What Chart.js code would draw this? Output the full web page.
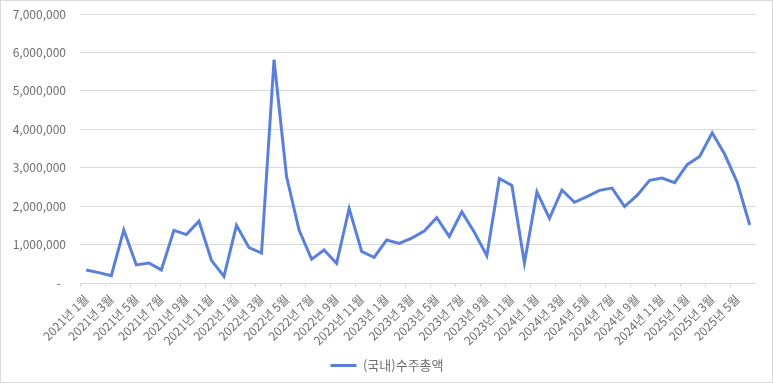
<!DOCTYPE html>
<html>
<head>
<meta charset="utf-8">
<script src="https://cdn.jsdelivr.net/npm/chart.js@4"></script>
<style>
  html, body { margin: 0; padding: 0; background: #fff; }
  #wrap { position: relative; width: 773px; height: 383px; }
  canvas { display: block; }
</style>
</head>
<body>
<div id="wrap"><canvas id="c" width="773" height="383"></canvas></div>
<script>
const categories = [
  "2021년 1월","2021년 2월","2021년 3월","2021년 4월","2021년 5월","2021년 6월",
  "2021년 7월","2021년 8월","2021년 9월","2021년 10월","2021년 11월","2021년 12월",
  "2022년 1월","2022년 2월","2022년 3월","2022년 4월","2022년 5월","2022년 6월",
  "2022년 7월","2022년 8월","2022년 9월","2022년 10월","2022년 11월","2022년 12월",
  "2023년 1월","2023년 2월","2023년 3월","2023년 4월","2023년 5월","2023년 6월",
  "2023년 7월","2023년 8월","2023년 9월","2023년 10월","2023년 11월","2023년 12월",
  "2024년 1월","2024년 2월","2024년 3월","2024년 4월","2024년 5월","2024년 6월",
  "2024년 7월","2024년 8월","2024년 9월","2024년 10월","2024년 11월","2024년 12월",
  "2025년 1월","2025년 2월","2025년 3월","2025년 4월","2025년 5월","2025년 6월"
];
const seriesName = "(국내)수주총액";
const orderTotal = [
  340000, 270000, 190000, 1380000, 470000, 520000,
  340000, 1370000, 1260000, 1610000, 590000, 170000,
  1500000, 920000, 780000, 5810000, 2770000, 1380000,
  620000, 860000, 510000, 1940000, 820000, 670000,
  1120000, 1030000, 1170000, 1350000, 1700000, 1210000,
  1850000, 1320000, 710000, 2720000, 2540000, 520000,
  2370000, 1680000, 2420000, 2100000, 2250000, 2410000,
  2470000, 1990000, 2280000, 2670000, 2730000, 2610000,
  3080000, 3290000, 3910000, 3350000, 2620000, 1510000
];
const yTicks = [0, 1000000, 2000000, 3000000, 4000000, 5000000, 6000000, 7000000];

const textColor = '#6e6e6e';
const gridColor = '#d9d9d9';
const lineColor = '#5a80da';
const fontFamily = '"Noto Sans CJK KR", "Noto Sans", sans-serif';

const frame = {
  id: 'frame',
  beforeDraw(chart) {
    const ctx = chart.ctx;
    ctx.save();
    ctx.fillStyle = '#fff';
    ctx.fillRect(0, 0, chart.width, chart.height);
    ctx.strokeStyle = '#d9d9d9';
    ctx.lineWidth = 1;
    ctx.strokeRect(0.5, 0.5, chart.width - 1, chart.height - 1);
    ctx.restore();
  }
};

const legendShift = {
  id: 'legendShift',
  afterLayout(chart) {
    if (chart.legend) {
      chart.legend.left += 9;
      chart.legend.right += 9;
    }
  }
};

new Chart(document.getElementById('c'), {
  type: 'line',
  data: {
    labels: categories,
    datasets: [{
      label: seriesName,
      data: orderTotal,
      borderColor: lineColor,
      backgroundColor: lineColor,
      borderWidth: 3,
      pointRadius: 0,
      tension: 0,
      fill: false
    }]
  },
  options: {
    responsive: false,
    animation: false,
    devicePixelRatio: 1,
    layout: { padding: { left: 0, right: 17, top: 14, bottom: 1 } },
    plugins: {
      legend: {
        position: 'bottom',
        labels: {
          color: textColor,
          font: { family: fontFamily, size: 13 },
          boxWidth: 26,
          boxHeight: 3,
          padding: 10,
          generateLabels(chart) {
            return chart.data.datasets.map((ds, i) => ({
              text: ds.label,
              fillStyle: ds.borderColor,
              strokeStyle: ds.borderColor,
              lineWidth: 0,
              fontColor: textColor,
              hidden: false,
              datasetIndex: i
            }));
          }
        }
      },
      tooltip: { enabled: false }
    },
    scales: {
      x: {
        type: 'category',
        offset: true,
        afterFit(scale) { scale.height = 66; },
        grid: {
          offset: true,
          drawOnChartArea: false,
          drawTicks: true,
          tickLength: 4,
          color: (ctx) => (ctx.index % 2 === 0 ? gridColor : 'rgba(0,0,0,0)')
        },
        border: { display: true, color: gridColor, width: 1 },
        ticks: {
          autoSkip: false,
          maxRotation: 45,
          minRotation: 45,
          padding: 5,
          color: textColor,
          font: { family: fontFamily, size: 12 },
          callback(value, index) {
            return index % 2 === 0 ? this.getLabelForValue(value) : '';
          }
        }
      },
      y: {
        min: 0,
        max: 7000000,
        afterFit(scale) { scale.width = 80; scale.paddingTop = 0; scale.paddingBottom = 0; },
        afterBuildTicks(scale) { scale.ticks = yTicks.map(v => ({ value: v })); },
        grid: { color: gridColor, drawTicks: false, lineWidth: 1 },
        border: { display: false },
        ticks: {
          padding: 14,
          color: textColor,
          font: { family: fontFamily, size: 12 },
          callback(v) { return v === 0 ? '-  ' : v.toLocaleString('en-US'); }
        }
      }
    }
  },
  plugins: [frame, legendShift]
});
</script>
</body>
</html>
